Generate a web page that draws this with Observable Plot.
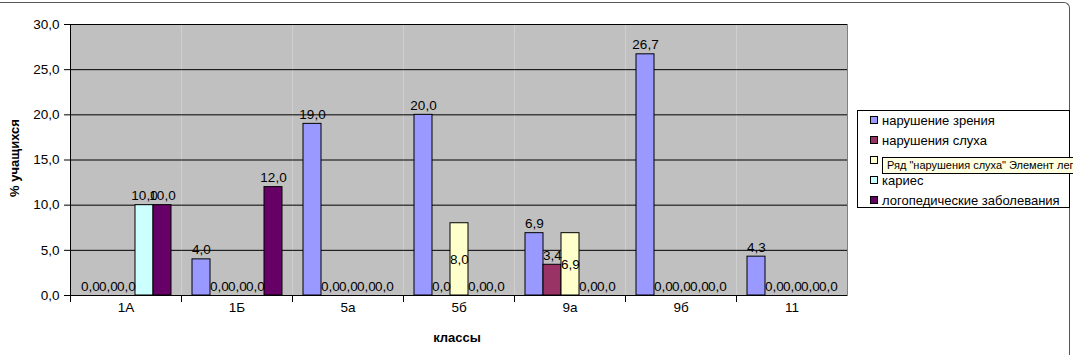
<!DOCTYPE html>
<html><head><meta charset="utf-8">
<script src="https://cdn.jsdelivr.net/npm/d3@7"></script>
<script src="https://cdn.jsdelivr.net/npm/@observablehq/plot@0.6"></script>
<style>
body{margin:0;background:#fff;font-family:"Liberation Sans",Arial,sans-serif;}
#wrap{position:relative;width:1073px;height:355px;overflow:hidden;}
#border{position:absolute;left:-10px;top:2px;height:400px;border-top:1px solid #555;border-right:1px solid #555;border-top-right-radius:6px;box-sizing:border-box;width:1080px;}
#ytitle{position:absolute;left:14px;top:158px;transform:translate(-50%,-50%) rotate(-90deg);font-weight:bold;font-size:13px;white-space:nowrap;}
#xtitle{position:absolute;left:457px;top:337px;transform:translate(-50%,-50%);font-weight:bold;font-size:13px;}
#legend{position:absolute;left:857px;top:110px;width:213px;height:98px;border:1px solid #000;background:#fff;box-sizing:border-box;font-size:13px;}
.item{position:absolute;left:12px;height:16px;line-height:16px;white-space:nowrap;}
.sw{display:inline-block;width:6px;height:6px;border:1px solid #000;margin-right:4px;vertical-align:1px;}
#tip{position:absolute;left:882px;top:157px;width:200px;height:17px;background:#ffffe1;border:1px solid #000;box-sizing:border-box;font-size:11px;line-height:15px;padding-left:4px;white-space:nowrap;overflow:hidden;}
</style></head><body><div id="wrap"><div id="border"></div></div>
<script>
const classes = ["1А","1Б","5а","5б","9а","9б","11"];
const seriesNames = ["нарушение зрения","нарушения слуха","тонзиллит","кариес","логопедические заболевания"];
const colors = ["#9999ff","#993366","#ffffcc","#ccffff","#660066"];
const vision  = [0, 4.0, 19.0, 20.0, 6.9, 26.7, 4.3];
const hearing = [0, 0, 0, 0, 3.4, 0, 0];
const tonsil  = [0, 0, 0, 8.0, 6.9, 0, 0];
const caries  = [10.0, 0, 0, 0, 0, 0, 0];
const speech  = [10.0, 12.0, 0, 0, 0, 0, 0];
const yTicks = [0, 5, 10, 15, 20, 25, 30];
const tooltipText = "Ряд \"нарушения слуха\" Элемент легенды";

const seriesValues = [vision, hearing, tonsil, caries, speech];
const rows = [];
classes.forEach((c, i) => seriesValues.forEach((vals, s) => rows.push({cls: c, series: seriesNames[s], s, value: vals[i]})));
const fmt = v => v.toFixed(1).replace(".", ",");
const midRows = rows.filter(d => d.s === 2 && d.value > 0);
const topRows = rows.filter(d => !(d.s === 2 && d.value > 0));
const font = '"Liberation Sans", Arial, sans-serif';

const chart = Plot.plot({
  width: 1073, height: 355,
  marginTop: 24, marginLeft: 68, marginRight: 225, marginBottom: 60,
  style: {fontFamily: font, fontSize: "13.5px", color: "#000", background: "transparent", overflow: "visible"},
  fx: {domain: classes, padding: 0, label: null},
  x: {domain: seriesNames, paddingInner: 0, paddingOuter: 0.5, axis: null},
  y: {domain: [0, 30], axis: null},
  color: {domain: seriesNames, range: colors},
  marks: [
    Plot.frame({fill: "#c0c0c0"}),
    Plot.ruleY(yTicks, {stroke: "#000", strokeWidth: 1}),
    Plot.barY(rows, {fx: "cls", x: "series", y: "value", fill: "series", stroke: "#000", strokeWidth: 1}),
    Plot.frame({anchor: "left", facetAnchor: "left", stroke: "#000"}),
    Plot.frame({anchor: "right", facetAnchor: "right", stroke: "#808080"}),
    Plot.frame({anchor: "left", insetTop: 271, insetBottom: -6, stroke: "#000"}),
    Plot.axisY({ticks: yTicks, tickSize: 6, tickPadding: 5, tickFormat: fmt, label: null, fontSize: 13.5, facetAnchor: "left"}),
    Plot.axisFx({anchor: "bottom", tickSize: 0, tickPadding: 7, label: null, fontSize: 13.5}),
    Plot.text(topRows, {fx: "cls", x: "series", y: "value", text: d => fmt(d.value), lineAnchor: "bottom", dy: -5, fontSize: 13.5, fill: "#000"}),
    Plot.text(midRows, {fx: "cls", x: "series", y: d => d.value / 2, text: d => fmt(d.value), lineAnchor: "middle", fontSize: 13.5, fill: "#000"})
  ]
});
const wrap = document.getElementById("wrap");
chart.style.position = "absolute"; chart.style.left = "0"; chart.style.top = "0";
wrap.appendChild(chart);

const yt = document.createElement("div"); yt.id = "ytitle"; yt.textContent = "% учащихся"; wrap.appendChild(yt);
const xt = document.createElement("div"); xt.id = "xtitle"; xt.textContent = "классы"; wrap.appendChild(xt);
const lg = document.createElement("div"); lg.id = "legend";
seriesNames.forEach((n, i) => {
  const it = document.createElement("div"); it.className = "item"; it.style.top = (2 + i * 20) + "px";
  const sw = document.createElement("span"); sw.className = "sw"; sw.style.background = colors[i];
  it.appendChild(sw); it.appendChild(document.createTextNode(n)); lg.appendChild(it);
});
wrap.appendChild(lg);
const tip = document.createElement("div"); tip.id = "tip"; tip.textContent = tooltipText; wrap.appendChild(tip);
</script></body></html>
